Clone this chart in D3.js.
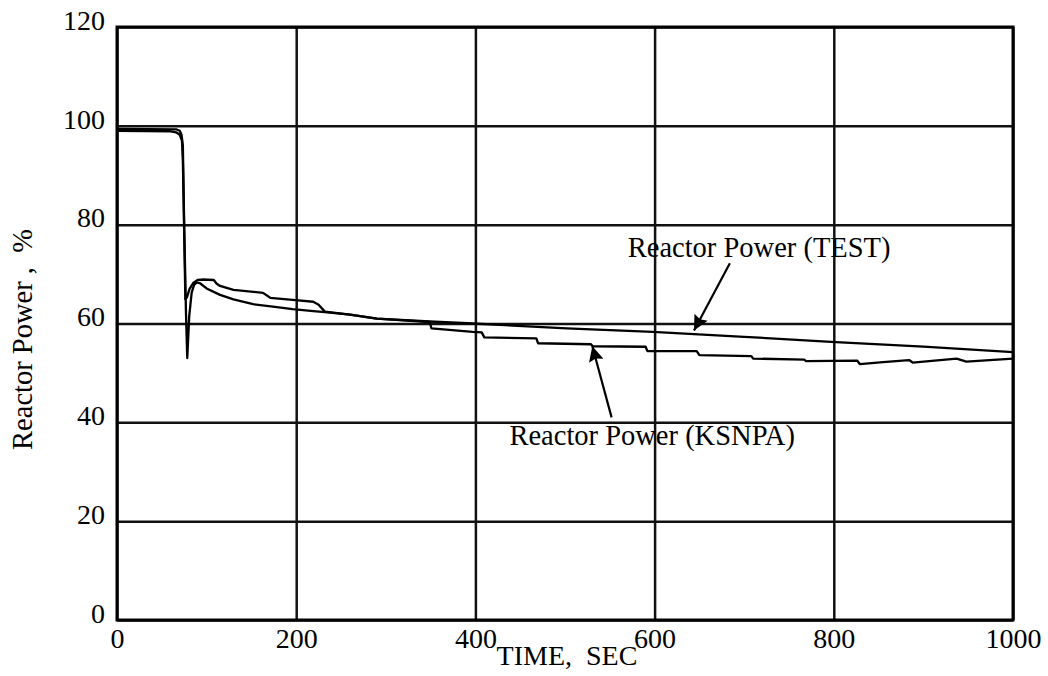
<!DOCTYPE html>
<html>
<head>
<meta charset="utf-8">
<script src="https://cdn.jsdelivr.net/npm/d3@7"></script>
<style>
  body { margin: 0; background: #fff; }
  text { font-family: "Liberation Serif", "Times New Roman", serif; fill: #000; }
</style>
</head>
<body>
<div id="chart"></div>
<script>
// time (s) and reactor power (%)
const testTime = [0, 66, 70, 72, 73.5, 75, 77, 78.4, 80.6, 83.3, 86, 89, 93, 100, 115, 130, 152, 174, 196, 219, 232, 260, 290, 349, 397, 502, 598, 700, 797, 900, 1000];
const testPower = [99.4, 99.3, 99.0, 98.2, 96, 80, 62, 53.0, 61.5, 66.2, 67.8, 68.3, 68.1, 67.1, 65.8, 64.9, 63.9, 63.4, 62.9, 62.5, 62.3, 61.8, 61.0, 60.4, 60.0, 59.0, 58.3, 57.3, 56.3, 55.3, 54.2];

const ksnpaTime = [0, 60, 66, 70, 72.5, 73.5, 75, 76.3, 78, 81, 85, 90, 95, 108, 111, 115, 130, 163, 171, 196, 219, 225, 232, 260, 290, 349, 351, 397, 407, 410, 468, 470, 529, 531, 590, 592, 647, 650, 708, 710, 767, 769, 826, 829, 855, 884, 888, 937, 948, 1000];
const ksnpaPower = [99.0, 98.9, 98.7, 98.2, 97, 93, 78, 64.9, 65.3, 67, 68.2, 68.8, 68.9, 68.8, 68.1, 67.6, 66.8, 66.2, 65.2, 64.8, 64.4, 63.8, 62.4, 61.8, 61.0, 60.3, 59.0, 58.3, 58.2, 57.2, 57.0, 56.0, 55.8, 55.4, 55.3, 54.4, 54.4, 53.6, 53.4, 52.9, 52.7, 52.4, 52.5, 51.8, 52.2, 52.6, 52.1, 52.9, 52.3, 52.9];

const xTicks = [0, 200, 400, 600, 800, 1000];
const yTicks = [0, 20, 40, 60, 80, 100, 120];

const margin = { top: 27, right: 35, bottom: 56, left: 117 },
  width = 1048 - margin.left - margin.right,
  height = 676 - margin.top - margin.bottom;

const svg = d3
  .select("#chart")
  .append("svg")
  .attr("width", width + margin.left + margin.right)
  .attr("height", height + margin.top + margin.bottom)
  .append("g")
  .attr("transform", "translate(" + margin.left + "," + margin.top + ")");

var x = d3.scaleLinear().domain([0, 1000]).range([0, width]);
var y = d3.scaleLinear().domain([0, 120]).range([height, 0]);

// grid
svg
  .append("g")
  .attr("class", "grid")
  .attr("transform", "translate(0," + height + ")")
  .call(d3.axisBottom(x).tickValues(xTicks).tickSize(-height).tickFormat(""));
svg
  .append("g")
  .attr("class", "grid")
  .call(d3.axisLeft(y).tickValues(yTicks).tickSize(-width).tickFormat(""));
svg.selectAll(".grid .domain").remove();
svg.selectAll(".grid line").attr("stroke", "#111").attr("stroke-width", 2.5);

svg
  .append("rect")
  .attr("width", width)
  .attr("height", height)
  .attr("fill", "none")
  .attr("stroke", "#000")
  .attr("stroke-width", 3);

// tick labels
var xAxis = svg
  .append("g")
  .attr("transform", "translate(0," + height + ")")
  .call(d3.axisBottom(x).tickValues(xTicks).tickFormat(d3.format("d")).tickSize(0).tickPadding(8));
var yAxis = svg
  .append("g")
  .call(d3.axisLeft(y).tickValues(yTicks).tickFormat(d3.format("d")).tickSize(0).tickPadding(12));
[xAxis, yAxis].forEach(function (g) {
  g.select(".domain").remove();
  g.attr("font-family", null);
  g.selectAll("text").attr("font-size", 28).attr("fill", "#000");
});
yAxis.selectAll("text").attr("dy", "0.08em");

svg
  .append("text")
  .attr("text-anchor", "middle")
  .attr("x", width / 2 + 2)
  .attr("y", height + 45)
  .attr("font-size", 28)
  .style("white-space", "pre")
  .text("TIME,  SEC");

svg
  .append("text")
  .attr("text-anchor", "middle")
  .attr("transform", "rotate(-90)")
  .attr("x", -(height / 2 + 16))
  .attr("y", -85)
  .attr("font-size", 28.5)
  .style("white-space", "pre")
  .text("Reactor Power ,  %");

// curves
var line = d3
  .line()
  .x(function (d) { return x(d[0]); })
  .y(function (d) { return y(d[1]); });

var testData = testTime.map(function (t, i) { return [t, testPower[i]]; });
var ksnpaData = ksnpaTime.map(function (t, i) { return [t, ksnpaPower[i]]; });

[ksnpaData, testData].forEach(function (data) {
  svg
    .append("path")
    .datum(data)
    .attr("fill", "none")
    .attr("stroke", "#000")
    .attr("stroke-width", 2.3)
    .attr("stroke-linejoin", "round")
    .attr("d", line);
});

// annotations
svg
  .append("defs")
  .append("marker")
  .attr("id", "head")
  .attr("viewBox", "0 0 10 10")
  .attr("refX", 10)
  .attr("refY", 5)
  .attr("markerWidth", 22)
  .attr("markerHeight", 15)
  .attr("markerUnits", "userSpaceOnUse")
  .attr("orient", "auto")
  .append("path")
  .attr("d", "M0,0 L10,5 L0,10 L1.5,5 z")
  .attr("fill", "#000");

var notes = [
  { label: "Reactor Power (TEST)", tx: 570, ty: 73.4, from: [684, 72.2], to: [644, 58.6] },
  { label: "Reactor Power (KSNPA)", tx: 438, ty: 35.5, from: [552, 41.0], to: [530.5, 55.4] },
];

notes.forEach(function (n) {
  svg
    .append("line")
    .attr("x1", x(n.from[0]))
    .attr("y1", y(n.from[1]))
    .attr("x2", x(n.to[0]))
    .attr("y2", y(n.to[1]))
    .attr("stroke", "#000")
    .attr("stroke-width", 2.2)
    .attr("marker-end", "url(#head)");
  svg
    .append("text")
    .attr("x", x(n.tx))
    .attr("y", y(n.ty))
    .attr("font-size", 28.5)
    .text(n.label);
});
</script>
</body>
</html>
